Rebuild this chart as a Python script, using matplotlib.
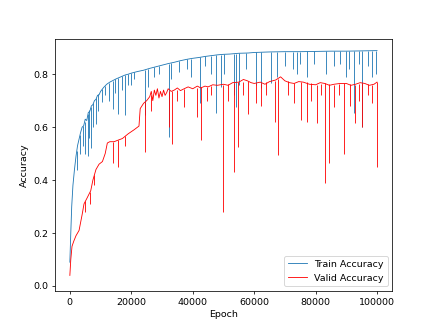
import matplotlib.pyplot as plt

# courbe d'entrainement
train_epochs = [0, 300, 600, 1000, 1500, 2000, 2500, 3000, 3500, 4000, 4500, 5000, 5500, 6000,
                6500, 7000, 7500, 8000, 8500, 9000, 9500, 10000, 11000, 12000, 13000, 14000,
                15000, 16000, 17000, 18000, 19000, 20000, 22000, 24000, 26000, 28000, 30000,
                32000, 34000, 36000, 38000, 40000, 42000, 44000, 46000, 48000, 50000, 52000,
                55000, 58000, 60000, 65000, 70000, 75000, 80000, 85000, 90000, 95000, 100000]
train_acc = [0.09, 0.20, 0.30, 0.38, 0.44, 0.49, 0.53, 0.555, 0.58, 0.60, 0.605, 0.63, 0.625,
             0.655, 0.66, 0.68, 0.685, 0.70, 0.705, 0.72, 0.722, 0.735, 0.75, 0.762, 0.77,
             0.776, 0.782, 0.787, 0.792, 0.797, 0.80, 0.804, 0.81, 0.815, 0.822, 0.828, 0.834,
             0.84, 0.845, 0.851, 0.856, 0.86, 0.863, 0.867, 0.87, 0.873, 0.875, 0.876, 0.879,
             0.88, 0.882, 0.884, 0.885, 0.885, 0.886, 0.887, 0.887, 0.888, 0.889]

# chutes ponctuelles de la courbe d'entrainement : epoch, bas, haut
train_dip_epochs = [2200, 3300, 4300, 4800, 5750, 6300, 6800, 7500, 8500, 9300, 10600, 11500,
                    12800, 13900, 14800, 15800, 17000, 17900, 19000, 19800, 21000, 24600, 25300,
                    27500, 29000, 32300, 33000, 35500, 38000, 39400, 42400, 44000, 46000, 47500,
                    49100, 50300, 53500, 54000, 55000, 57500, 60500, 62100, 65400, 67300, 70000,
                    72500, 73800, 75000, 77300, 79500, 83300, 86000, 88000, 89800, 90800, 92500,
                    94000, 95200, 97000, 98400, 99500]
train_dip_low = [0.44, 0.50, 0.53, 0.50, 0.49, 0.56, 0.52, 0.60, 0.61, 0.66, 0.695, 0.72,
                 0.70, 0.67, 0.73, 0.65, 0.74, 0.645, 0.76, 0.758, 0.78, 0.645, 0.75,
                 0.79, 0.80, 0.563, 0.78, 0.81, 0.82, 0.79, 0.69, 0.83, 0.80, 0.652,
                 0.752, 0.80, 0.72, 0.677, 0.76, 0.82, 0.758, 0.746, 0.765, 0.79, 0.83,
                 0.82, 0.80, 0.84, 0.79, 0.84, 0.80, 0.83, 0.84, 0.79, 0.82, 0.652,
                 0.84, 0.60, 0.83, 0.79, 0.80]
train_dip_top = [0.51, 0.57, 0.605, 0.62, 0.65, 0.665, 0.675, 0.69, 0.71, 0.725, 0.745, 0.755,
                 0.768, 0.775, 0.78, 0.786, 0.792, 0.796, 0.80, 0.803, 0.807, 0.817, 0.819,
                 0.826, 0.83, 0.84, 0.843, 0.85, 0.856, 0.859, 0.864, 0.867, 0.87, 0.872,
                 0.874, 0.875, 0.877, 0.877, 0.879, 0.88, 0.882, 0.883, 0.884, 0.884, 0.885,
                 0.885, 0.885, 0.885, 0.886, 0.886, 0.886, 0.887, 0.887, 0.887, 0.887, 0.887,
                 0.888, 0.888, 0.888, 0.888, 0.889]

# courbe de validation
valid_epochs = [0, 300, 700, 1300, 2000, 3000, 4000, 4600, 5500, 6800, 7500, 8500, 9500, 10600,
                11500, 12200, 13000, 14400, 15500, 17100, 19000, 20900, 22500, 22900, 24000,
                25000, 26000, 26500, 27000, 27500, 28000, 28500, 29000, 29500, 30000, 30500,
                31000, 31500, 32000, 33000, 34000, 35000, 36000, 37200, 38500, 40000, 41500,
                42600, 44000, 45000, 46500, 48000, 50000, 51500, 53000, 55000, 56500, 57800,
                59000, 60000, 62000, 63500, 65000, 67000, 68600, 70000, 71500, 73000, 74500,
                76000, 78000, 80000, 81500, 83000, 84500, 86000, 88000, 90000, 91500, 93000,
                94500, 96000, 97500, 99000, 100000]
valid_acc = [0.04, 0.10, 0.15, 0.17, 0.19, 0.21, 0.27, 0.31, 0.33, 0.36, 0.40, 0.44, 0.46, 0.47,
             0.50, 0.54, 0.545, 0.545, 0.55, 0.557, 0.575, 0.59, 0.604, 0.67, 0.69,
             0.70, 0.715, 0.735, 0.70, 0.74, 0.72, 0.745, 0.71, 0.735, 0.715, 0.74,
             0.72, 0.73, 0.745, 0.735, 0.74, 0.748, 0.738, 0.745, 0.752, 0.745, 0.755,
             0.748, 0.755, 0.752, 0.76, 0.758, 0.762, 0.758, 0.768, 0.77, 0.78, 0.775,
             0.768, 0.765, 0.77, 0.762, 0.772, 0.778, 0.79, 0.775, 0.768, 0.765, 0.772,
             0.77, 0.762, 0.76, 0.768, 0.765, 0.758, 0.762, 0.765, 0.765, 0.758, 0.762,
             0.768, 0.765, 0.758, 0.762, 0.77]

valid_dip_epochs = [5000, 6600, 8000, 13900, 15800, 18000, 24500, 26500, 32300, 33200, 35000,
                    37300, 41300, 42600, 44500, 46000, 49700, 51500, 53500, 54800, 56500, 58000,
                    60500, 62100, 64000, 66700, 67800, 71000, 73000, 75100, 77100, 78500, 80600,
                    81800, 83100, 84400, 86000, 87500, 89300, 91200, 92700, 94000, 95200, 97000,
                    98400, 99900]
valid_dip_low = [0.28, 0.31, 0.38, 0.463, 0.45, 0.53, 0.507, 0.66, 0.60, 0.538, 0.70,
                 0.677, 0.64, 0.55, 0.70, 0.72, 0.28, 0.70, 0.43, 0.525, 0.72, 0.65,
                 0.69, 0.68, 0.72, 0.62, 0.494, 0.72, 0.69, 0.626, 0.62, 0.70, 0.614,
                 0.72, 0.388, 0.463, 0.677, 0.72, 0.50, 0.68, 0.614, 0.70, 0.60, 0.72,
                 0.69, 0.45]
valid_dip_top = [0.32, 0.355, 0.42, 0.545, 0.55, 0.565, 0.695, 0.72, 0.735, 0.737, 0.74,
                 0.745, 0.747, 0.75, 0.752, 0.755, 0.76, 0.762, 0.765, 0.77, 0.772, 0.775,
                 0.765, 0.768, 0.77, 0.775, 0.78, 0.775, 0.765, 0.77, 0.77, 0.765, 0.76,
                 0.762, 0.765, 0.763, 0.76, 0.762, 0.765, 0.762, 0.76, 0.762, 0.765, 0.762,
                 0.76, 0.77]

fig = plt.figure(figsize=(6.4, 4.8), dpi=68.125)
ax = fig.add_subplot(111)

lw = 0.9
ax.plot(train_epochs, train_acc, color='tab:blue', linewidth=lw, label='Train Accuracy')
ax.vlines(train_dip_epochs, train_dip_low, train_dip_top, colors='tab:blue', linewidth=lw)
ax.plot(valid_epochs, valid_acc, color='red', linewidth=lw, label='Valid Accuracy')
ax.vlines(valid_dip_epochs, valid_dip_low, valid_dip_top, colors='red', linewidth=lw)

ax.set_ylim(-0.019, 0.932)
ax.set_xlabel('Epoch')
ax.set_ylabel('Accuracy')
ax.legend(loc='lower right')

plt.savefig('out.png')
